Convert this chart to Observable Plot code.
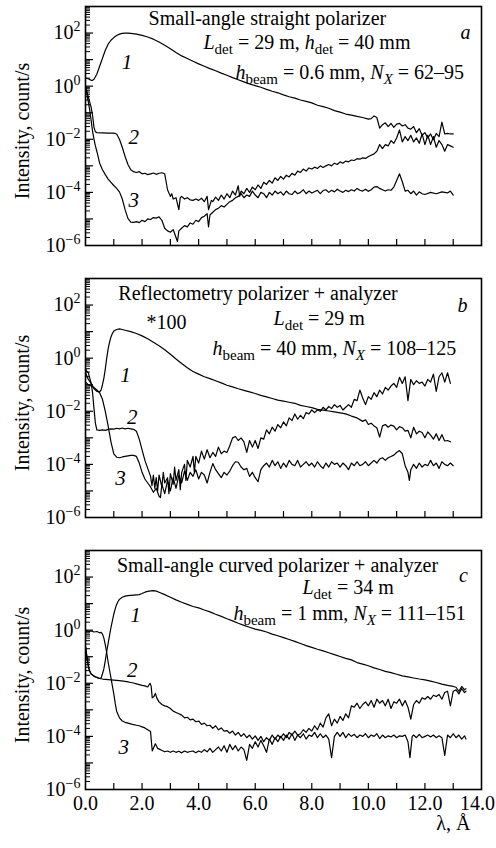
<!DOCTYPE html>
<html><head><meta charset="utf-8">
<script src="https://cdn.jsdelivr.net/npm/d3@7"></script>
<script src="https://cdn.jsdelivr.net/npm/@observablehq/plot@0.6"></script>
<style>
body{margin:0;background:#fff;}
#chart{width:496px;}
#chart svg{display:block;}
</style></head><body><div id="chart"></div>
<script>
// ---- data: [wavelength λ (Å), log10 intensity (count/s)] ----
const a1 = [[0,0.3],[0.1,0.28],[0.2,0.22],[0.25,0.22],[0.3,0.26],[0.4,0.45],[0.5,0.75],[0.6,1.05],[0.7,1.35],[0.8,1.58],[0.9,1.73],[1.0,1.83],[1.1,1.91],[1.2,1.96],[1.3,1.99],[1.4,2.0],[1.5,2.0],[1.6,1.99],[1.8,1.96],[2.0,1.91],[2.2,1.85],[2.4,1.77],[2.6,1.66],[2.8,1.54],[3.0,1.41],[3.2,1.27],[3.4,1.14],[3.6,1.04],[3.8,0.94],[4.0,0.84],[4.2,0.75],[4.4,0.66],[4.6,0.58],[4.8,0.49],[5.0,0.41],[5.2,0.32],[5.4,0.24],[5.6,0.16],[5.8,0.08],[6.0,0.02],[6.2,-0.04],[6.4,-0.12],[6.6,-0.19],[6.8,-0.25],[7.0,-0.33],[7.2,-0.40],[7.4,-0.45],[7.6,-0.52],[7.8,-0.57],[8.0,-0.63],[8.2,-0.72],[8.4,-0.77],[8.6,-0.83],[8.8,-0.92],[9.0,-0.98],[9.2,-1.05],[9.4,-1.09],[9.6,-1.14],[9.8,-1.18],[10.0,-1.24],[10.1,-1.22],[10.2,-1.12],[10.3,-1.18],[10.4,-1.58],[10.5,-1.45],[10.6,-1.38],[10.7,-1.52],[10.8,-1.40],[10.9,-1.55],[11.0,-1.43],[11.1,-1.40],[11.2,-1.50],[11.3,-1.45],[11.4,-1.58],[11.5,-1.62],[11.6,-1.52],[11.7,-1.75],[11.8,-1.60],[11.9,-1.85],[12.0,-1.75],[12.1,-1.95],[12.2,-1.80],[12.3,-2.02],[12.4,-1.78],[12.5,-1.90],[12.6,-1.35],[12.7,-1.80],[12.8,-1.78],[12.9,-1.80],[13.0,-1.80]];
const a2 = [[0,0.0],[0.05,-0.2],[0.1,-0.4],[0.15,-0.6],[0.2,-0.8],[0.25,-1.1],[0.3,-1.55],[0.35,-1.72],[0.4,-1.75],[0.6,-1.76],[0.8,-1.77],[1.0,-1.77],[1.1,-1.8],[1.2,-2.0],[1.3,-2.3],[1.4,-2.65],[1.5,-2.95],[1.6,-3.15],[1.7,-3.22],[1.8,-3.25],[1.9,-3.22],[2.0,-3.3],[2.1,-3.28],[2.2,-3.33],[2.3,-3.3],[2.4,-3.27],[2.5,-3.32],[2.6,-3.28],[2.7,-3.26],[2.8,-3.3],[2.85,-3.6],[2.9,-3.9],[3.0,-4.15],[3.05,-4.05],[3.1,-4.25],[3.2,-4.2],[3.3,-4.65],[3.35,-4.2],[3.4,-4.15],[3.5,-4.25],[3.6,-4.2],[3.7,-4.28],[3.8,-4.3],[3.9,-4.25],[4.0,-4.3],[4.1,-4.22],[4.2,-4.35],[4.3,-4.15],[4.35,-4.65],[4.45,-4.3],[4.5,-4.35],[4.6,-4.18],[4.7,-4.3],[4.8,-4.1],[4.9,-4.25],[5.0,-4.05],[5.1,-4.2],[5.2,-3.95],[5.3,-4.1],[5.4,-3.75],[5.45,-4.15],[5.5,-3.95],[5.6,-4.05],[5.7,-3.85],[5.8,-4.0],[5.9,-3.8],[6.0,-3.9],[6.1,-3.72],[6.2,-3.85],[6.3,-3.62],[6.4,-3.7],[6.5,-3.55],[6.6,-3.65],[6.7,-3.45],[6.8,-3.55],[6.9,-3.4],[7.0,-3.5],[7.1,-3.35],[7.2,-3.42],[7.3,-3.28],[7.4,-3.35],[7.5,-3.2],[7.6,-3.25],[7.7,-3.12],[7.8,-3.2],[7.9,-3.08],[8.0,-3.12],[8.1,-3.05],[8.2,-3.1],[8.3,-3.0],[8.4,-3.06],[8.5,-3.0],[8.6,-2.95],[8.7,-3.0],[8.8,-2.9],[8.9,-2.95],[9.0,-2.85],[9.1,-2.9],[9.2,-2.82],[9.3,-2.85],[9.4,-2.78],[9.5,-2.8],[9.6,-2.73],[9.7,-2.75],[9.8,-2.7],[9.9,-2.72],[10.0,-2.65],[10.1,-2.6],[10.2,-2.55],[10.3,-2.45],[10.4,-2.2],[10.5,-2.35],[10.6,-2.2],[10.7,-2.25],[10.8,-2.05],[10.9,-2.15],[11.0,-1.95],[11.1,-1.65],[11.2,-2.1],[11.3,-1.9],[11.4,-2.05],[11.5,-1.85],[11.6,-2.1],[11.7,-1.95],[11.8,-2.15],[11.9,-1.8],[12.0,-2.2],[12.1,-1.85],[12.2,-2.2],[12.3,-1.9],[12.4,-2.3],[12.5,-2.05],[12.6,-2.2],[12.7,-2.45],[12.8,-2.2],[12.9,-2.25],[13.0,-2.3]];
const a3 = [[0,0.0],[0.05,-0.3],[0.1,-0.6],[0.15,-0.9],[0.2,-1.3],[0.25,-1.7],[0.3,-2.0],[0.35,-2.25],[0.4,-2.45],[0.5,-2.9],[0.6,-3.15],[0.7,-3.33],[0.8,-3.5],[0.9,-3.62],[1.0,-3.74],[1.1,-3.85],[1.2,-3.98],[1.3,-4.25],[1.4,-4.65],[1.5,-4.98],[1.6,-5.12],[1.7,-5.13],[1.8,-5.1],[1.9,-5.14],[2.0,-5.05],[2.1,-5.1],[2.2,-5.0],[2.3,-5.02],[2.4,-4.95],[2.5,-4.97],[2.6,-4.92],[2.7,-5.05],[2.8,-5.35],[2.9,-5.45],[3.0,-5.5],[3.1,-5.4],[3.2,-5.7],[3.25,-5.85],[3.3,-5.45],[3.4,-5.35],[3.5,-5.25],[3.6,-5.3],[3.7,-5.15],[3.8,-5.2],[3.9,-5.05],[4.0,-5.1],[4.1,-4.95],[4.2,-4.9],[4.3,-4.8],[4.35,-5.3],[4.4,-4.85],[4.5,-4.75],[4.6,-4.65],[4.7,-4.6],[4.8,-4.5],[4.9,-4.55],[5.0,-4.45],[5.1,-4.35],[5.2,-4.3],[5.3,-4.2],[5.4,-4.15],[5.5,-4.05],[5.6,-4.2],[5.7,-4.1],[5.8,-4.15],[5.9,-3.95],[6.0,-4.1],[6.1,-4.2],[6.2,-4.0],[6.3,-4.05],[6.4,-4.2],[6.5,-4.0],[6.6,-4.1],[6.7,-3.95],[6.8,-4.05],[6.9,-3.98],[7.0,-4.1],[7.1,-3.95],[7.2,-4.05],[7.3,-4.08],[7.4,-3.95],[7.5,-4.05],[7.6,-4.0],[7.7,-3.9],[7.8,-4.05],[7.9,-3.95],[8.0,-4.02],[8.2,-3.92],[8.3,-4.05],[8.4,-3.93],[8.5,-3.9],[8.6,-4.0],[8.7,-3.92],[8.8,-3.98],[8.9,-3.88],[9.0,-3.95],[9.1,-4.0],[9.2,-3.92],[9.3,-3.97],[9.4,-3.9],[9.5,-3.95],[9.6,-3.85],[9.7,-3.92],[9.8,-3.95],[9.9,-3.88],[10.0,-3.96],[10.1,-3.9],[10.2,-3.8],[10.3,-3.78],[10.4,-3.85],[10.5,-3.9],[10.6,-3.95],[10.7,-3.9],[10.8,-3.92],[10.9,-3.8],[11.0,-3.55],[11.1,-3.3],[11.2,-3.6],[11.3,-3.95],[11.4,-3.92],[11.5,-4.05],[11.6,-3.95],[11.7,-4.1],[11.8,-3.98],[11.9,-4.05],[12.0,-4.08],[12.2,-4.0],[12.4,-4.05],[12.6,-3.98],[12.8,-4.02],[12.9,-3.95],[13.0,-4.1]];

const b1 = [[0,-0.55],[0.1,-0.8],[0.2,-0.95],[0.3,-1.15],[0.4,-1.25],[0.5,-1.27],[0.55,-1.2],[0.6,-1.0],[0.65,-0.75],[0.7,-0.4],[0.75,0.0],[0.8,0.35],[0.85,0.6],[0.9,0.8],[0.95,0.93],[1.0,1.02],[1.1,1.08],[1.2,1.1],[1.3,1.08],[1.4,1.05],[1.6,1.0],[1.8,0.93],[2.0,0.84],[2.2,0.73],[2.4,0.6],[2.6,0.47],[2.8,0.32],[3.0,0.15],[3.2,-0.03],[3.4,-0.2],[3.6,-0.36],[3.8,-0.5],[4.0,-0.6],[4.2,-0.7],[4.4,-0.77],[4.6,-0.85],[4.8,-0.93],[5.0,-1.02],[5.2,-1.08],[5.4,-1.15],[5.6,-1.21],[5.8,-1.27],[6.0,-1.33],[6.2,-1.40],[6.4,-1.46],[6.6,-1.52],[6.8,-1.58],[7.0,-1.62],[7.2,-1.66],[7.4,-1.70],[7.6,-1.78],[7.8,-1.82],[8.0,-1.86],[8.2,-1.93],[8.4,-1.96],[8.6,-1.99],[8.8,-2.02],[9.0,-2.06],[9.2,-2.1],[9.4,-2.18],[9.6,-2.25],[9.8,-2.38],[9.9,-2.32],[10.0,-2.5],[10.1,-2.45],[10.2,-2.55],[10.3,-2.62],[10.4,-2.97],[10.5,-2.55],[10.6,-2.5],[10.7,-2.6],[10.8,-2.52],[10.9,-2.56],[11.0,-2.7],[11.1,-2.58],[11.2,-2.62],[11.3,-2.75],[11.4,-2.72],[11.5,-3.0],[11.6,-2.6],[11.7,-2.85],[11.8,-2.75],[11.9,-2.8],[12.0,-3.0],[12.1,-2.78],[12.2,-2.9],[12.3,-3.05],[12.4,-2.85],[12.5,-3.1],[12.6,-2.88],[12.7,-3.12],[12.8,-3.1],[12.9,-3.15]];
const b2 = [[0,-0.4],[0.05,-0.5],[0.1,-0.55],[0.15,-0.75],[0.2,-0.95],[0.25,-1.3],[0.3,-1.9],[0.35,-2.45],[0.4,-2.7],[0.5,-2.72],[0.6,-2.7],[0.7,-2.72],[0.8,-2.68],[0.9,-2.66],[1.0,-2.67],[1.1,-2.64],[1.2,-2.66],[1.3,-2.63],[1.4,-2.66],[1.5,-2.64],[1.6,-2.66],[1.7,-2.68],[1.8,-2.75],[1.9,-3.05],[2.0,-3.45],[2.1,-3.85],[2.2,-4.15],[2.3,-4.45],[2.35,-4.8],[2.4,-4.4],[2.45,-4.9],[2.5,-4.5],[2.55,-5.0],[2.6,-4.4],[2.7,-4.85],[2.75,-4.3],[2.8,-4.7],[2.9,-4.5],[2.95,-5.1],[3.0,-4.35],[3.1,-4.75],[3.15,-4.1],[3.2,-4.6],[3.3,-4.2],[3.35,-4.95],[3.4,-4.3],[3.5,-4.0],[3.55,-4.6],[3.6,-3.85],[3.7,-4.1],[3.8,-3.7],[3.85,-4.3],[3.9,-3.7],[4.0,-3.95],[4.1,-3.5],[4.2,-3.8],[4.3,-3.45],[4.4,-3.75],[4.5,-3.55],[4.6,-3.7],[4.7,-3.35],[4.8,-3.6],[4.9,-3.5],[5.0,-3.55],[5.1,-3.3],[5.2,-3.0],[5.3,-2.95],[5.4,-3.1],[5.5,-3.0],[5.6,-3.15],[5.7,-3.55],[5.8,-3.1],[5.9,-3.35],[6.0,-3.1],[6.1,-3.4],[6.2,-3.0],[6.3,-3.05],[6.4,-2.7],[6.5,-2.85],[6.6,-2.6],[6.7,-2.75],[6.8,-2.5],[6.9,-2.62],[7.0,-2.4],[7.1,-2.55],[7.2,-2.25],[7.3,-2.35],[7.4,-2.1],[7.5,-2.3],[7.6,-2.15],[7.7,-2.28],[7.8,-2.05],[7.9,-2.1],[8.0,-1.95],[8.1,-2.05],[8.2,-1.95],[8.3,-2.0],[8.4,-1.85],[8.5,-1.95],[8.6,-1.82],[8.7,-1.9],[8.8,-1.75],[8.9,-1.85],[9.0,-1.78],[9.1,-1.95],[9.2,-1.85],[9.3,-1.75],[9.4,-1.85],[9.5,-1.55],[9.6,-1.6],[9.7,-1.2],[9.8,-1.5],[9.9,-1.75],[10.0,-1.45],[10.1,-1.55],[10.2,-1.3],[10.3,-1.45],[10.4,-1.2],[10.5,-1.35],[10.6,-1.1],[10.7,-1.2],[10.8,-1.05],[10.9,-0.95],[11.0,-1.1],[11.1,-0.72],[11.2,-0.95],[11.3,-0.7],[11.4,-1.6],[11.5,-0.8],[11.6,-1.0],[11.7,-0.85],[11.8,-0.95],[11.9,-0.9],[12.0,-1.05],[12.1,-0.8],[12.2,-0.9],[12.3,-0.6],[12.4,-1.25],[12.5,-0.7],[12.6,-0.55],[12.7,-0.9],[12.8,-0.55],[12.9,-0.95]];
const b3 = [[0,-0.9],[0.1,-1.0],[0.2,-1.05],[0.3,-1.1],[0.4,-1.2],[0.5,-1.3],[0.6,-1.55],[0.7,-2.0],[0.8,-2.55],[0.9,-3.15],[1.0,-3.6],[1.1,-3.73],[1.2,-3.75],[1.3,-3.72],[1.4,-3.7],[1.5,-3.68],[1.6,-3.66],[1.7,-3.66],[1.8,-3.7],[1.9,-3.95],[2.0,-4.3],[2.1,-4.55],[2.2,-4.7],[2.3,-4.85],[2.4,-5.05],[2.5,-4.9],[2.6,-5.2],[2.65,-5.25],[2.7,-4.75],[2.8,-5.1],[2.9,-4.6],[3.0,-5.0],[3.1,-4.5],[3.2,-4.9],[3.3,-4.4],[3.4,-4.7],[3.5,-4.25],[3.6,-4.6],[3.7,-4.3],[3.8,-4.45],[3.9,-4.2],[4.0,-4.55],[4.1,-4.3],[4.2,-4.4],[4.3,-4.7],[4.4,-4.3],[4.5,-3.97],[4.6,-4.2],[4.7,-4.35],[4.8,-4.5],[4.9,-4.3],[5.0,-4.4],[5.1,-4.25],[5.2,-4.05],[5.3,-3.9],[5.4,-3.92],[5.5,-4.1],[5.6,-4.2],[5.7,-4.15],[5.8,-4.45],[5.9,-4.3],[6.0,-4.5],[6.1,-4.65],[6.2,-4.2],[6.3,-4.05],[6.4,-3.95],[6.5,-4.1],[6.6,-3.85],[6.7,-4.05],[6.8,-3.9],[6.9,-4.15],[7.0,-3.95],[7.1,-4.1],[7.2,-3.85],[7.3,-4.0],[7.4,-4.05],[7.5,-3.85],[7.6,-4.1],[7.7,-4.0],[7.8,-3.9],[7.9,-4.05],[8.0,-3.95],[8.1,-4.1],[8.2,-3.9],[8.3,-4.05],[8.4,-4.15],[8.5,-3.95],[8.6,-4.1],[8.7,-3.9],[8.8,-4.0],[8.9,-3.95],[9.0,-4.1],[9.1,-3.95],[9.2,-4.05],[9.3,-4.2],[9.4,-3.95],[9.5,-4.05],[9.6,-3.9],[9.7,-4.05],[9.8,-4.0],[9.9,-3.9],[10.0,-4.05],[10.1,-3.95],[10.2,-3.85],[10.3,-3.95],[10.4,-3.8],[10.5,-3.75],[10.6,-3.85],[10.7,-3.75],[10.8,-3.7],[10.9,-3.65],[11.0,-3.55],[11.1,-3.48],[11.2,-3.6],[11.3,-4.05],[11.4,-4.3],[11.45,-4.6],[11.5,-4.2],[11.6,-4.0],[11.7,-4.15],[11.8,-3.95],[11.9,-4.1],[12.0,-4.0],[12.1,-4.05],[12.2,-3.85],[12.3,-4.05],[12.4,-3.95],[12.5,-4.15],[12.6,-3.9],[12.7,-4.0],[12.8,-4.05],[12.9,-3.95],[13.0,-4.05]];

const c1 = [[0,-0.63],[0.05,-1.0],[0.1,-1.35],[0.15,-1.55],[0.2,-1.65],[0.3,-1.73],[0.4,-1.78],[0.5,-1.82],[0.55,-1.8],[0.6,-1.65],[0.65,-1.45],[0.7,-1.15],[0.75,-0.8],[0.8,-0.5],[0.85,-0.2],[0.9,0.1],[0.95,0.35],[1.0,0.6],[1.05,0.8],[1.1,0.97],[1.15,1.08],[1.2,1.16],[1.3,1.24],[1.4,1.28],[1.5,1.3],[1.6,1.31],[1.7,1.32],[1.8,1.33],[1.9,1.34],[2.0,1.38],[2.1,1.43],[2.2,1.46],[2.3,1.48],[2.4,1.49],[2.5,1.47],[2.6,1.43],[2.8,1.34],[3.0,1.24],[3.2,1.14],[3.4,1.05],[3.6,0.97],[3.8,0.89],[4.0,0.84],[4.2,0.76],[4.4,0.69],[4.6,0.6],[4.8,0.52],[5.0,0.43],[5.2,0.35],[5.4,0.26],[5.6,0.18],[5.8,0.11],[6.0,0.04],[6.2,-0.01],[6.4,-0.07],[6.6,-0.15],[6.8,-0.21],[7.0,-0.28],[7.2,-0.35],[7.4,-0.42],[7.6,-0.5],[7.8,-0.58],[8.0,-0.65],[8.2,-0.72],[8.4,-0.78],[8.6,-0.85],[8.8,-0.92],[9.0,-0.99],[9.2,-1.06],[9.4,-1.12],[9.6,-1.22],[9.8,-1.28],[10.0,-1.34],[10.2,-1.42],[10.4,-1.48],[10.6,-1.55],[10.8,-1.6],[11.0,-1.66],[11.2,-1.72],[11.4,-1.76],[11.6,-1.8],[11.8,-1.84],[12.0,-1.87],[12.2,-1.92],[12.4,-1.97],[12.6,-2.03],[12.8,-2.08],[13.0,-2.12],[13.1,-2.15],[13.2,-2.3],[13.3,-2.12],[13.4,-2.25],[13.45,-2.2]];
const c2 = [[0,-0.6],[0.05,-1.0],[0.1,-1.35],[0.15,-1.55],[0.2,-1.65],[0.3,-1.73],[0.4,-1.78],[0.5,-1.82],[0.6,-1.84],[0.8,-1.86],[1.0,-1.88],[1.2,-1.9],[1.4,-1.93],[1.5,-1.95],[1.6,-1.97],[1.7,-1.99],[1.8,-2.02],[1.9,-2.05],[2.0,-2.08],[2.1,-2.1],[2.2,-2.14],[2.28,-2.0],[2.32,-2.1],[2.36,-2.55],[2.42,-2.5],[2.47,-2.38],[2.52,-2.55],[2.6,-2.7],[2.7,-2.8],[2.8,-2.85],[2.9,-2.88],[3.0,-2.95],[3.1,-3.05],[3.2,-3.1],[3.3,-3.15],[3.4,-3.2],[3.5,-3.3],[3.6,-3.28],[3.7,-3.38],[3.8,-3.35],[3.9,-3.45],[4.0,-3.42],[4.1,-3.55],[4.2,-3.5],[4.3,-3.6],[4.4,-3.58],[4.5,-3.7],[4.6,-3.6],[4.7,-3.75],[4.8,-3.68],[4.9,-3.8],[5.0,-3.78],[5.1,-3.88],[5.2,-3.8],[5.3,-3.95],[5.4,-3.85],[5.5,-4.0],[5.6,-3.9],[5.7,-4.05],[5.8,-3.95],[5.9,-4.1],[6.0,-3.98],[6.1,-4.15],[6.2,-4.0],[6.3,-4.2],[6.4,-4.05],[6.5,-4.15],[6.6,-3.95],[6.7,-4.1],[6.8,-3.95],[6.9,-4.05],[7.0,-3.9],[7.1,-4.05],[7.2,-3.85],[7.3,-3.95],[7.4,-3.8],[7.5,-3.95],[7.6,-3.9],[7.7,-3.75],[7.8,-3.85],[7.9,-3.7],[8.0,-3.8],[8.1,-3.6],[8.2,-3.75],[8.3,-3.5],[8.4,-3.65],[8.5,-3.3],[8.6,-3.15],[8.7,-3.6],[8.8,-3.35],[8.9,-3.5],[9.0,-3.25],[9.1,-3.4],[9.2,-3.15],[9.3,-3.3],[9.4,-2.85],[9.5,-2.9],[9.6,-2.75],[9.7,-2.95],[9.8,-2.8],[9.9,-2.7],[10.0,-2.85],[10.1,-2.65],[10.2,-2.9],[10.3,-2.6],[10.4,-2.75],[10.5,-2.65],[10.6,-2.85],[10.7,-2.6],[10.8,-2.95],[10.9,-2.7],[11.0,-2.75],[11.1,-2.6],[11.2,-2.85],[11.3,-2.65],[11.4,-2.9],[11.5,-3.35],[11.6,-2.8],[11.7,-2.65],[11.8,-2.75],[11.9,-2.55],[12.0,-2.6],[12.1,-2.5],[12.2,-2.6],[12.3,-2.45],[12.4,-2.5],[12.5,-2.42],[12.6,-2.6],[12.7,-2.35],[12.8,-2.3],[12.9,-2.85],[13.0,-2.3],[13.1,-2.25],[13.2,-2.4],[13.3,-2.2],[13.4,-2.35],[13.45,-2.3]];
const c3 = [[0,0.0],[0.1,-0.05],[0.2,-0.03],[0.3,-0.07],[0.4,-0.05],[0.5,-0.1],[0.55,-0.08],[0.6,-0.15],[0.65,-0.3],[0.7,-0.55],[0.75,-0.85],[0.8,-1.2],[0.85,-1.5],[0.9,-1.8],[0.95,-2.1],[1.0,-2.4],[1.05,-2.75],[1.1,-3.05],[1.2,-3.3],[1.3,-3.42],[1.4,-3.47],[1.5,-3.5],[1.6,-3.53],[1.7,-3.56],[1.8,-3.58],[1.9,-3.6],[2.0,-3.64],[2.1,-3.68],[2.2,-3.75],[2.3,-3.82],[2.33,-4.2],[2.36,-4.55],[2.42,-4.4],[2.47,-4.28],[2.55,-4.45],[2.65,-4.5],[2.8,-4.58],[2.9,-4.55],[3.0,-4.6],[3.1,-4.55],[3.2,-4.6],[3.3,-4.56],[3.4,-4.62],[3.5,-4.55],[3.6,-4.6],[3.7,-4.57],[3.8,-4.55],[3.9,-4.62],[4.0,-4.55],[4.1,-4.6],[4.2,-4.5],[4.3,-4.58],[4.4,-4.45],[4.5,-4.6],[4.6,-4.5],[4.7,-4.4],[4.8,-4.55],[4.9,-4.35],[5.0,-4.6],[5.1,-4.3],[5.2,-4.5],[5.3,-4.35],[5.4,-4.55],[5.5,-4.4],[5.6,-4.5],[5.7,-4.9],[5.8,-4.3],[5.9,-4.45],[6.0,-4.2],[6.1,-4.4],[6.2,-4.15],[6.3,-4.35],[6.4,-4.6],[6.5,-4.1],[6.6,-4.3],[6.7,-4.05],[6.8,-4.2],[6.9,-4.0],[7.0,-4.15],[7.1,-3.95],[7.2,-4.1],[7.3,-3.9],[7.4,-4.15],[7.5,-3.95],[7.6,-4.05],[7.7,-3.9],[7.8,-4.1],[7.9,-3.95],[8.0,-4.0],[8.1,-3.85],[8.2,-4.05],[8.3,-3.9],[8.4,-4.05],[8.5,-3.95],[8.6,-4.1],[8.7,-4.8],[8.8,-4.0],[8.9,-3.85],[9.0,-4.0],[9.1,-3.85],[9.2,-4.05],[9.3,-3.9],[9.4,-4.0],[9.5,-3.92],[9.6,-4.05],[9.7,-3.95],[9.8,-4.0],[9.9,-3.9],[10.0,-4.05],[10.1,-3.95],[10.2,-4.0],[10.3,-3.9],[10.4,-4.08],[10.5,-3.95],[10.6,-4.05],[10.7,-3.98],[10.8,-4.02],[10.9,-3.95],[11.0,-4.05],[11.1,-3.98],[11.2,-4.0],[11.3,-3.95],[11.4,-4.2],[11.47,-4.8],[11.55,-4.0],[11.6,-3.95],[11.7,-4.05],[11.8,-3.92],[11.9,-4.05],[12.0,-4.0],[12.1,-3.95],[12.2,-4.02],[12.3,-3.95],[12.4,-4.05],[12.5,-3.98],[12.6,-4.05],[12.7,-4.72],[12.8,-3.95],[12.9,-4.05],[13.0,-3.9],[13.1,-4.05],[13.2,-3.95],[13.3,-4.1],[13.4,-3.98],[13.45,-4.1]];

// ---- ticks and texts ----
const xMinorTicks = [1,2,3,4,5,6,7,8,9,10,11,12,13];
const xTickLabels = [0,2,4,6,8,10,12];
const xLastTickLabel = [14];
const yMajorTicks = [1e-5,1e-4,1e-3,1e-2,1e-1,1,10,100];
const yTickLabels = [1e-6,1e-4,1e-2,1,100];
const curveNames = ["1","2","3"];
const yTitle = "Intensity, count/s";
const xTitle = "λ, Å";
const titlesA = ["Small-angle straight polarizer", "_L_[det] = 29 m, _h_[det] = 40 mm", "_h_[beam] = 0.6 mm, _N_[_X_] = 62–95"];
const titlesB = ["Reflectometry polarizer + analyzer", "_L_[det] = 29 m", "_h_[beam] = 40 mm, _N_[_X_] = 108–125"];
const titlesC = ["Small-angle curved polarizer + analyzer", "_L_[det] = 34 m", "_h_[beam] = 1 mm, _N_[_X_] = 111–151"];
const panelLetters = ["a","b","c"];
const scaleNote = "*100";

const yMinorTicks = d3.range(-6, 3).flatMap(e => d3.range(2, 10).map(m => m * 10 ** e));

const W = 496, ML = 85, MR = 15;
const FW = W - ML - MR;
const FONT = "'Liberation Serif', 'Times New Roman', serif";

function richify(svg) {
  d3.select(svg).selectAll("text").each(function () {
    const s = this.textContent;
    const el = d3.select(this);
    if (s.includes("^")) {
      const [base, exp] = s.split("^");
      el.text(null);
      el.append("tspan").text(base);
      el.append("tspan").text(exp).attr("dy", -8).attr("font-size", "14px");
      return;
    }
    if (!/[_\[]/.test(s)) return;
    el.text(null);
    const re = /_([^_\[\]]+)_|\[([^\]]+)\]|([^_\[]+)/g;
    let m, shift = 0;
    while ((m = re.exec(s))) {
      const t = el.append("tspan");
      let dy;
      if (m[2] !== undefined) {
        let sub = m[2], ital = false;
        if (/^_.*_$/.test(sub)) { sub = sub.slice(1, -1); ital = true; }
        t.text(sub).attr("font-size", "15px");
        if (ital) t.attr("font-style", "italic");
        dy = 5 - shift; shift = 5;
      } else {
        t.text(m[1] !== undefined ? m[1] : m[3]);
        if (m[1] !== undefined) t.attr("font-style", "italic");
        dy = -shift; shift = 0;
      }
      if (dy) t.attr("dy", dy);
    }
  });
}

function panel({curves, height, marginTop, marginBottom, titles, letter, titlePos, labelPos, extra = [], showX = false}) {
  const rows = curves.flatMap((c, k) => c.map(([lam, v]) => ({lam, I: 10 ** v, k})));
  const FH = height - marginTop - marginBottom;
  const txt = {fontFamily: FONT, fill: "black"};
  const marks = [
    Plot.tickX(xMinorTicks, {x: d => d, insetTop: FH - 6, stroke: "black", strokeWidth: 1.2}),
    Plot.tickY(yMajorTicks, {y: d => d, insetRight: FW - 8, stroke: "black", strokeWidth: 1.2}),
    Plot.tickY(yMinorTicks, {y: d => d, insetRight: FW - 5, stroke: "black", strokeWidth: 1}),
    Plot.axisY(yTickLabels, {label: null, tickSize: 0, tickPadding: 5, fontSize: 20, tickFormat: d => {
      const e = Math.round(Math.log10(d));
      return "10^" + (e < 0 ? "\u2212" + (-e) : String(e));
    }}),
    Plot.line(rows, {x: "lam", y: "I", z: "k", stroke: "black", strokeWidth: 1.2, strokeLinejoin: "round"}),
    Plot.frame({stroke: "black", strokeWidth: 1.6}),
    Plot.text([yTitle], {text: d => d, frameAnchor: "left", textAnchor: "middle", lineAnchor: "middle", rotate: -90, dx: -63, dy: 5, fontSize: 20, ...txt}),
    Plot.text([titles[0]], {text: d => d, x: () => titlePos[0][0], y: () => 10 ** titlePos[0][1], textAnchor: "middle", lineAnchor: "middle", fontSize: 20, ...txt}),
    Plot.text([titles[1]], {text: d => d, x: () => titlePos[1][0], y: () => 10 ** titlePos[1][1], textAnchor: "start", lineAnchor: "middle", fontSize: 20, ...txt}),
    Plot.text([titles[2]], {text: d => d, x: () => titlePos[2][0], y: () => 10 ** titlePos[2][1], textAnchor: "start", lineAnchor: "middle", fontSize: 20, ...txt}),
    Plot.text([letter], {text: d => d, x: () => titlePos[3][0], y: () => 10 ** titlePos[3][1], textAnchor: "middle", lineAnchor: "middle", fontSize: 20, fontStyle: "italic", ...txt}),
    Plot.text(curveNames, {text: d => d, x: (d, i) => labelPos[i][0], y: (d, i) => 10 ** labelPos[i][1], textAnchor: "middle", lineAnchor: "middle", fontSize: 21, fontStyle: "italic", ...txt}),
    ...extra
  ];
  if (showX) {
    marks.push(Plot.axisX(xTickLabels, {label: null, tickSize: 0, tickPadding: 6, fontSize: 20, tickFormat: d => d.toFixed(1)}));
    marks.push(Plot.axisX(xLastTickLabel, {label: null, tickSize: 0, tickPadding: 6, fontSize: 20, dx: -4, tickFormat: d => d.toFixed(1)}));
    marks.push(Plot.text([xTitle], {text: d => d, frameAnchor: "bottom-right", textAnchor: "end", lineAnchor: "bottom", dx: -11, dy: 40, fontSize: 20, ...txt}));
  }
  const svg = Plot.plot({
    width: W, height, marginLeft: ML, marginRight: MR, marginTop, marginBottom,
    style: {fontFamily: FONT, fontSize: "20px", background: "white", color: "black", overflow: "visible"},
    x: {domain: [0, 14], ...(showX ? {} : {axis: null})},
    y: {type: "log", domain: [1e-6, 1e3]},
    marks
  });
  richify(svg);
  return svg;
}

const root = document.getElementById("chart");
root.append(panel({
  curves: [a1, a2, a3], height: 272, marginTop: 6, marginBottom: 27, titles: titlesA, letter: panelLetters[0],
  titlePos: [[6.43, 2.55], [4.17, 1.64], [5.3, 0.52], [13.43, 2.02]],
  labelPos: [[1.47, 0.9], [1.71, -1.92], [1.71, -4.31]]
}));
root.append(panel({
  curves: [b1, b2, b3], height: 272, marginTop: 6, marginBottom: 27, titles: titlesB, letter: panelLetters[1],
  titlePos: [[6.1, 2.43], [6.65, 1.49], [4.49, 0.35], [13.33, 1.98]],
  labelPos: [[1.41, -0.65], [1.65, -2.22], [1.24, -4.54]],
  extra: [Plot.text([scaleNote], {text: d => d, x: () => 2.86, y: () => 10 ** 1.34, textAnchor: "middle", lineAnchor: "middle", fontSize: 20, fontFamily: FONT, fill: "black"})]
}));
root.append(panel({
  curves: [c1, c2, c3], height: 304, marginTop: 6, marginBottom: 59, titles: titlesC, letter: panelLetters[2],
  titlePos: [[6.79, 2.43], [7.67, 1.62], [5.23, 0.64], [13.36, 2.06]],
  labelPos: [[1.77, 0.55], [1.65, -1.52], [1.35, -4.41]], showX: true
}));
</script></body></html>
